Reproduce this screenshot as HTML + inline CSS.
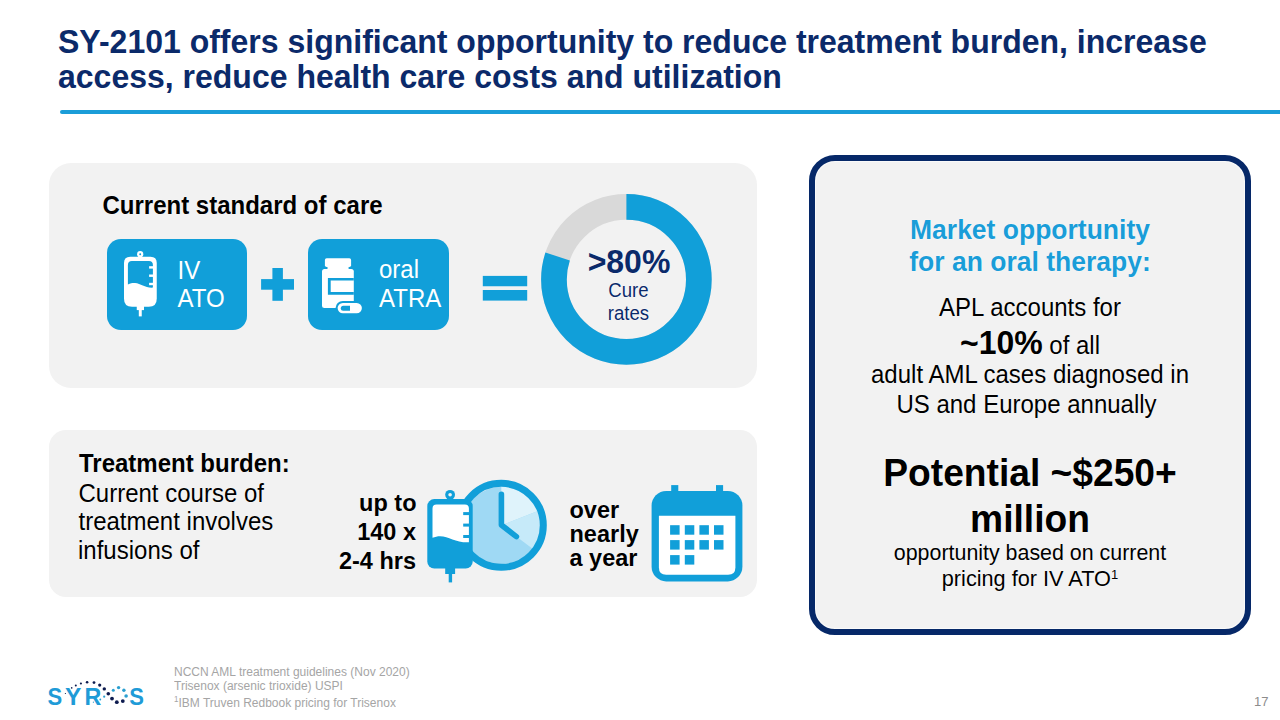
<!DOCTYPE html>
<html><head><meta charset="utf-8">
<style>
html,body{margin:0;padding:0}
body{width:1280px;height:720px;position:relative;overflow:hidden;background:#fff;font-family:"Liberation Sans",sans-serif}
.t{position:absolute;white-space:nowrap}
sup{font-size:60%;line-height:0;vertical-align:0.55em}
</style></head><body>

<div style="position:absolute;left:60px;top:110px;width:1230px;height:4px;border-radius:2px;background:#1a9dd8"></div>
<div style="position:absolute;left:48.5px;top:163px;width:708.5px;height:224.5px;border-radius:22px;background:#f2f2f2"></div>
<div style="position:absolute;left:48.5px;top:430px;width:708.5px;height:167px;border-radius:17px;background:#f2f2f2"></div>
<div style="position:absolute;left:809px;top:155.2px;width:442px;height:479.8px;box-sizing:border-box;border:6px solid #062868;border-radius:26px;background:#f2f2f2;box-shadow:inset 0 0 1px 1px rgba(255,255,255,0.7)"></div>
<div style="position:absolute;left:107px;top:238.6px;width:140px;height:91.5px;border-radius:14px;background:#119fd9"></div>
<div style="position:absolute;left:308.4px;top:238.8px;width:140.6px;height:91.3px;border-radius:14px;background:#119fd9"></div>


<svg style="position:absolute;left:0;top:0" width="1280" height="720" viewBox="0 0 1280 720">
  <!-- plus -->
  <rect x="272.4" y="268" width="10.5" height="32.8" fill="#119fd9"/>
  <rect x="261.1" y="279.1" width="32.9" height="10.6" fill="#119fd9"/>
  <!-- equals -->
  <rect x="482.8" y="275.9" width="44.4" height="10.35" fill="#119fd9"/>
  <rect x="482.8" y="290" width="44.4" height="10.6" fill="#119fd9"/>
  <!-- donut -->
  <circle cx="626.4" cy="279.4" r="72.45" fill="none" stroke="#d9d9d9" stroke-width="25.7"/>
  <circle cx="626.4" cy="279.4" r="72.45" fill="none" stroke="#119fd9" stroke-width="25.7"
     stroke-dasharray="364.173 1000" transform="rotate(-90 626.4 279.4)"/>
</svg>


<svg style="position:absolute;left:0;top:0" width="1280" height="720" viewBox="0 0 1280 720">
  <!-- IV bag 1 white -->
  <g fill="#fff">
    <circle cx="140.2" cy="254.2" r="3.1"/>
    <rect x="138.6" y="255" width="3.2" height="3"/>
    <path d="M124,263 Q124,256.7 130.25,256.7 H150.5 Q156.75,256.7 156.75,263 V298.7 Q156.75,306.7 148.75,306.7 H132 Q124,306.7 124,298.7 Z"/>
    <rect x="136.75" y="305" width="7.25" height="5.1"/>
    <rect x="138.8" y="309" width="2.95" height="7.4"/>
  </g>
  <circle cx="140.2" cy="254.2" r="0.95" fill="#119fd9"/>
  <path fill="#119fd9" d="M127.9,265.1 L127.9,284.4 C131,283 133,282.8 135,283 C141,283.5 145,288 152.9,287.6 L152.9,265.1 Q152.9,261.1 148.9,261.1 L131.9,261.1 Q127.9,261.1 127.9,265.1 Z"/>
  <g fill="#fff">
    <rect x="149.1" y="266.2" width="4" height="2.4"/>
    <rect x="149.1" y="274.5" width="4" height="2.4"/>
    <rect x="149.1" y="282.8" width="4" height="2.4"/>
  </g>
  <!-- pill bottle -->
  <g fill="#fff">
    <rect x="324.9" y="258.2" width="26.2" height="8.8" rx="1.8"/>
    <rect x="327.5" y="266" width="21.1" height="3.5"/>
    <rect x="322" y="269" width="31.8" height="39" rx="2.5"/>
  </g>
  <path fill="#119fd9" d="M327.9,278.1 H353.8 V280.4 H330.7 V291.9 H353.8 V294.7 H327.9 Z"/>
  <rect x="335.6" y="300.9" width="28.3" height="14.4" rx="7.2" fill="#119fd9"/>
  <rect x="337.6" y="302.9" width="24.3" height="10.4" rx="5.2" fill="#fff"/>
  <path fill="#119fd9" d="M350,305.7 H343.3 A2.5,2.5 0 0 0 343.3,310.7 H350 Z"/>

  <!-- clock -->
  <circle cx="501.3" cy="525.35" r="38.6" fill="#9fd9f4"/>
  <path fill="#dff3fb" d="M501.3,525.35 L501.3,486.75 A38.6,38.6 0 0 1 537.25,511.3 Z"/>
  <path fill="#c6eaf9" d="M501.3,525.35 L537.25,511.3 A38.6,38.6 0 0 1 532.3,548.4 Z"/>
  <circle cx="501.3" cy="525.35" r="42" fill="none" stroke="#119fd9" stroke-width="7"/>
  <polyline points="501.4,494.2 501.4,525 516.4,536.6" fill="none" stroke="#119fd9" stroke-width="5.6" stroke-linecap="round" stroke-linejoin="round"/>
  <!-- IV bag 2 blue -->
  <g fill="#119fd9">
    <circle cx="450.1" cy="494.8" r="4.9"/>
    <rect x="427.3" y="499.1" width="45.4" height="69.5" rx="7"/>
    <rect x="445.2" y="567" width="9.9" height="7"/>
    <rect x="448.7" y="573" width="3.4" height="9.4"/>
  </g>
  <circle cx="450.1" cy="494.8" r="1.8" fill="#f2f2f2"/>
  <path fill="#fff" d="M432.5,508.4 L432.5,537.8 C435,536.8 437.5,536.2 440,536.2 C449,536.5 456,542.8 468.9,542.3 L468.9,508.4 Q468.9,504.4 464.9,504.4 L436.5,504.4 Q432.5,504.4 432.5,508.4 Z"/>
  <g fill="#119fd9">
    <rect x="463.2" y="512.1" width="5.8" height="3"/>
    <rect x="463.2" y="523.6" width="5.8" height="3"/>
    <rect x="463.2" y="535" width="5.8" height="3"/>
  </g>

  <!-- calendar -->
  <g fill="#119fd9">
    <rect x="671.2" y="485.1" width="7.1" height="8"/>
    <rect x="716" y="485.1" width="7.1" height="8"/>
    <rect x="651.6" y="490.9" width="90.8" height="90.5" rx="14.6"/>
  </g>
  <path fill="#fff" d="M658.9,515.7 H735.4 V567.5 Q735.4,574.8 728.1,574.8 H666.2 Q658.9,574.8 658.9,567.5 Z"/>
  <g fill="#119fd9">
    <rect x="670.1" y="525.2" width="9.5" height="9.5"/><rect x="684.8" y="525.2" width="9.5" height="9.5"/><rect x="699.4" y="525.2" width="9.5" height="9.5"/><rect x="714" y="525.2" width="9.5" height="9.5"/>
    <rect x="670.1" y="540.1" width="9.5" height="9.5"/><rect x="684.8" y="540.1" width="9.5" height="9.5"/><rect x="699.4" y="540.1" width="9.5" height="9.5"/><rect x="714" y="540.1" width="9.5" height="9.5"/>
    <rect x="670.1" y="555.1" width="9.5" height="9.5"/><rect x="684.8" y="555.1" width="9.5" height="9.5"/>
  </g>
</svg>


<svg style="position:absolute;left:0;top:0" width="1280" height="720" viewBox="0 0 1280 720">
 <g fill="#1f9bd7" font-family="'Liberation Sans', sans-serif" font-weight="700" font-size="24.5">
  <text transform="translate(47.6,704.9) scale(0.9,1)">S</text>
  <text transform="translate(65.1,704.7) scale(1.0,1)">Y</text>
  <text transform="translate(84.6,704.7) scale(0.95,1)">R</text>
  <text transform="translate(129.2,704.9) scale(0.9,1)">S</text>
 </g>
 <g fill="#0d1b4f">
  <circle cx="65.4" cy="693.5" r="0.6"/><circle cx="71.7" cy="687.9" r="0.8"/><circle cx="75.8" cy="685.5" r="1"/>
  <circle cx="80.9" cy="683.5" r="1.1"/><circle cx="87.1" cy="682.3" r="1.3"/><circle cx="94" cy="682.6" r="1.4"/>
  <circle cx="99.7" cy="685.1" r="1.6"/><circle cx="104.3" cy="688.9" r="1.7"/><circle cx="108.3" cy="693.7" r="1.8"/>
  <circle cx="112" cy="698.6" r="1.9"/><circle cx="116.8" cy="702.2" r="1.9"/><circle cx="122.8" cy="701.1" r="1.9"/>
 </g>
 <g fill="#2a9fd0">
  <circle cx="93.4" cy="702.2" r="0.6"/><circle cx="100.3" cy="699.5" r="0.9"/><circle cx="104.2" cy="696.7" r="1.1"/>
  <circle cx="113.3" cy="690.3" r="1.5"/><circle cx="118.6" cy="687.6" r="1.7"/><circle cx="123.9" cy="690.3" r="1.7"/>
  <circle cx="126.1" cy="696" r="1.8"/>
 </g>
</svg>

<div class="t" style="top:23.01px;font-size:32px;line-height:38.4px;font-weight:700;color:#0b2a6a;transform:scaleY(1.037);transform-origin:0 30.29px;left:58px;">SY-2101 offers significant opportunity to reduce treatment burden, increase</div>
<div class="t" style="top:57.61px;font-size:32px;line-height:38.4px;font-weight:700;color:#0b2a6a;transform:scaleY(1.037);transform-origin:0 30.29px;left:58px;">access, reduce health care costs and utilization</div>
<div class="t" style="top:191.68px;font-size:24px;line-height:28.8px;font-weight:700;color:#000;transform:scaleY(1.037);transform-origin:0 22.72px;left:102.5px;text-shadow:0 0 1px #fff,0 0 1px #fff;">Current standard of care</div>
<div class="t" style="top:256.88px;font-size:24px;line-height:28.8px;font-weight:400;color:#fff;transform:scaleY(1.037);transform-origin:0 22.72px;left:177.5px;">IV</div>
<div class="t" style="top:285.48px;font-size:24px;line-height:28.8px;font-weight:400;color:#fff;transform:scaleY(1.037);transform-origin:0 22.72px;left:177.5px;">ATO</div>
<div class="t" style="top:256.28px;font-size:24px;line-height:28.8px;font-weight:400;color:#fff;transform:scaleY(1.037);transform-origin:0 22.72px;left:379px;">oral</div>
<div class="t" style="top:285.28px;font-size:24px;line-height:28.8px;font-weight:400;color:#fff;transform:scaleY(1.037);transform-origin:0 22.72px;left:379px;">ATRA</div>
<div class="t" style="top:242.71px;font-size:32px;line-height:38.4px;font-weight:700;color:#0b2a6a;transform:scaleY(1.037);transform-origin:0 30.29px;left:529.00px;width:200px;text-align:center;text-shadow:0 0 1px #fff,0 0 1px #fff;">&gt;80%</div>
<div class="t" style="top:280.49px;font-size:18.6px;line-height:22.32px;font-weight:400;color:#0b2a6a;transform:scaleY(1.037);transform-origin:0 17.61px;left:528.50px;width:200px;text-align:center;text-shadow:0 0 1px #fff,0 0 1px #fff;">Cure</div>
<div class="t" style="top:302.99px;font-size:18.6px;line-height:22.32px;font-weight:400;color:#0b2a6a;transform:scaleY(1.037);transform-origin:0 17.61px;left:528.50px;width:200px;text-align:center;text-shadow:0 0 1px #fff,0 0 1px #fff;">rates</div>
<div class="t" style="top:450.28px;font-size:24px;line-height:28.8px;font-weight:700;color:#000;transform:scaleY(1.037);transform-origin:0 22.72px;left:79px;text-shadow:0 0 1px #fff,0 0 1px #fff;">Treatment burden:</div>
<div class="t" style="top:479.58px;font-size:24px;line-height:28.8px;font-weight:400;color:#000;transform:scaleY(1.037);transform-origin:0 22.72px;left:78.5px;text-shadow:0 0 1px #fff,0 0 1px #fff;">Current course of</div>
<div class="t" style="top:508.18px;font-size:24px;line-height:28.8px;font-weight:400;color:#000;transform:scaleY(1.037);transform-origin:0 22.72px;left:78.5px;text-shadow:0 0 1px #fff,0 0 1px #fff;">treatment involves</div>
<div class="t" style="top:536.98px;font-size:24px;line-height:28.8px;font-weight:400;color:#000;transform:scaleY(1.037);transform-origin:0 22.72px;left:78px;text-shadow:0 0 1px #fff,0 0 1px #fff;">infusions of</div>
<div class="t" style="top:488.95px;font-size:23.5px;line-height:28.2px;font-weight:700;color:#000;transform:scaleY(1.037);transform-origin:0 22.25px;left:216.50px;width:200px;text-align:right;text-shadow:0 0 1px #fff,0 0 1px #fff;">up to</div>
<div class="t" style="top:517.75px;font-size:23.5px;line-height:28.2px;font-weight:700;color:#000;transform:scaleY(1.037);transform-origin:0 22.25px;left:216.00px;width:200px;text-align:right;text-shadow:0 0 1px #fff,0 0 1px #fff;">140 x</div>
<div class="t" style="top:546.55px;font-size:23.5px;line-height:28.2px;font-weight:700;color:#000;transform:scaleY(1.037);transform-origin:0 22.25px;left:216.00px;width:200px;text-align:right;text-shadow:0 0 1px #fff,0 0 1px #fff;">2-4 hrs</div>
<div class="t" style="top:495.55px;font-size:23.5px;line-height:28.2px;font-weight:700;color:#000;transform:scaleY(1.037);transform-origin:0 22.25px;left:569.5px;text-shadow:0 0 1px #fff,0 0 1px #fff;">over</div>
<div class="t" style="top:519.95px;font-size:23.5px;line-height:28.2px;font-weight:700;color:#000;transform:scaleY(1.037);transform-origin:0 22.25px;left:569.5px;text-shadow:0 0 1px #fff,0 0 1px #fff;">nearly</div>
<div class="t" style="top:543.75px;font-size:23.5px;line-height:28.2px;font-weight:700;color:#000;transform:scaleY(1.037);transform-origin:0 22.25px;left:569.5px;text-shadow:0 0 1px #fff,0 0 1px #fff;">a year</div>
<div class="t" style="top:215.31px;font-size:26.5px;line-height:31.8px;font-weight:700;color:#1a9dd8;transform:scaleY(1.037);transform-origin:0 25.09px;left:730.00px;width:600px;text-align:center;text-shadow:0 0 1px #fff,0 0 1px #fff;">Market opportunity</div>
<div class="t" style="top:247.31px;font-size:26.5px;line-height:31.8px;font-weight:700;color:#1a9dd8;transform:scaleY(1.037);transform-origin:0 25.09px;left:730.00px;width:600px;text-align:center;text-shadow:0 0 1px #fff,0 0 1px #fff;">for an oral therapy:</div>
<div class="t" style="top:293.78px;font-size:24px;line-height:28.8px;font-weight:400;color:#000;transform:scaleY(1.037);transform-origin:0 22.72px;left:730.00px;width:600px;text-align:center;text-shadow:0 0 1px #fff,0 0 1px #fff;">APL accounts for</div>
<div class="t" style="top:327.88px;font-size:24px;line-height:30px;font-weight:400;color:#000;transform:scaleY(1.037);transform-origin:0 23.32px;left:730.00px;width:600px;text-align:center;text-shadow:0 0 1px #fff,0 0 1px #fff;"><span style="font-size:32px;font-weight:700">~10%</span> of all</div>
<div class="t" style="top:361.28px;font-size:24px;line-height:28.8px;font-weight:400;color:#000;transform:scaleY(1.037);transform-origin:0 22.72px;left:730.00px;width:600px;text-align:center;text-shadow:0 0 1px #fff,0 0 1px #fff;">adult AML cases diagnosed in</div>
<div class="t" style="top:390.88px;font-size:24px;line-height:28.8px;font-weight:400;color:#000;transform:scaleY(1.037);transform-origin:0 22.72px;left:726.50px;width:600px;text-align:center;text-shadow:0 0 1px #fff,0 0 1px #fff;">US and Europe annually</div>
<div class="t" style="top:451.48px;font-size:37.2px;line-height:44.64px;font-weight:700;color:#000;transform:scaleY(1.037);transform-origin:0 35.22px;left:730.00px;width:600px;text-align:center;text-shadow:0 0 1px #fff,0 0 1px #fff;">Potential ~$250+</div>
<div class="t" style="top:496.78px;font-size:37.2px;line-height:44.64px;font-weight:700;color:#000;transform:scaleY(1.037);transform-origin:0 35.22px;left:730.00px;width:600px;text-align:center;text-shadow:0 0 1px #fff,0 0 1px #fff;">million</div>
<div class="t" style="top:541.14px;font-size:21.4px;line-height:25.68px;font-weight:400;color:#000;transform:scaleY(1.037);transform-origin:0 20.26px;left:730.00px;width:600px;text-align:center;text-shadow:0 0 1px #fff,0 0 1px #fff;">opportunity based on current</div>
<div class="t" style="top:565.76px;font-size:21.7px;line-height:26.04px;font-weight:400;color:#000;transform:scaleY(1.037);transform-origin:0 20.54px;left:730.00px;width:600px;text-align:center;text-shadow:0 0 1px #fff,0 0 1px #fff;">pricing for IV ATO<sup style="font-size:13px;vertical-align:0.5em">1</sup></div>
<div class="t" style="top:664.54px;font-size:12px;line-height:14.4px;font-weight:400;color:#a5a5a5;transform:scaleY(1.037);transform-origin:0 11.36px;left:174px;">NCCN AML treatment guidelines (Nov 2020)</div>
<div class="t" style="top:679.24px;font-size:12px;line-height:14.4px;font-weight:400;color:#a5a5a5;transform:scaleY(1.037);transform-origin:0 11.36px;left:174px;">Trisenox (arsenic trioxide) USPI</div>
<div class="t" style="top:695.64px;font-size:12px;line-height:14.4px;font-weight:400;color:#a5a5a5;transform:scaleY(1.037);transform-origin:0 11.36px;left:174px;"><sup style="font-size:8px">1</sup>IBM Truven Redbook pricing for Trisenox</div>
<div class="t" style="top:693.89px;font-size:13px;line-height:15.6px;font-weight:400;color:#8c8c8c;transform:scaleY(1.037);transform-origin:0 12.31px;left:1168.50px;width:100px;text-align:right;">17</div>
</body></html>
